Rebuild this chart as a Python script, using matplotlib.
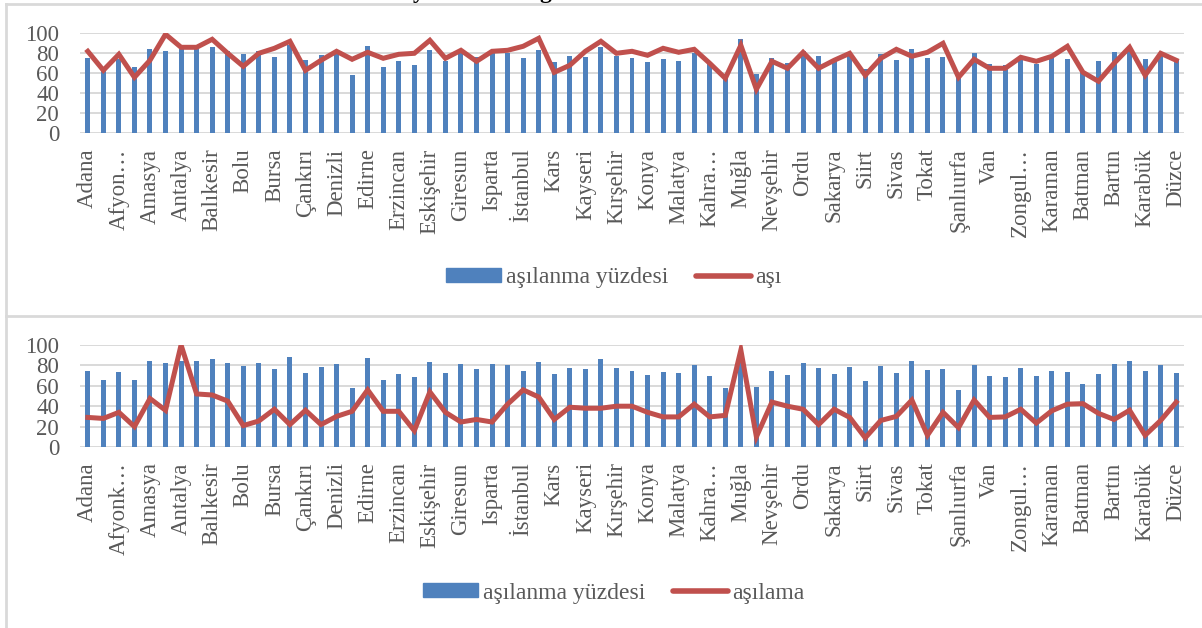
import numpy as np
import matplotlib
matplotlib.use("Agg")
import matplotlib.pyplot as plt
from matplotlib.lines import Line2D

plt.rcParams['font.family'] = ['Liberation Serif', 'DejaVu Serif']

iller = ["Adana", "Adıyaman", "Afyonkarahisar", "Ağrı", "Amasya", "Ankara", "Antalya",
         "Aydın", "Balıkesir", "Bilecik", "Bolu", "Burdur", "Bursa", "Çanakkale", "Çankırı",
         "Çorum", "Denizli", "Diyarbakır", "Edirne", "Elazığ", "Erzincan", "Erzurum",
         "Eskişehir", "Gaziantep", "Giresun", "Hatay", "Isparta", "Mersin", "İstanbul",
         "İzmir", "Kars", "Kastamonu", "Kayseri", "Kırklareli", "Kırşehir", "Kocaeli",
         "Konya", "Kütahya", "Malatya", "Manisa", "Kahramanmaraş", "Mardin", "Muğla", "Muş",
         "Nevşehir", "Niğde", "Ordu", "Rize", "Sakarya", "Samsun", "Siirt", "Sinop", "Sivas",
         "Tekirdağ", "Tokat", "Trabzon", "Şanlıurfa", "Uşak", "Van", "Yozgat", "Zonguldak",
         "Aksaray", "Karaman", "Kırıkkale", "Batman", "Şırnak", "Bartın", "Yalova",
         "Karabük", "Osmaniye", "Düzce"]

asilanma_yuzdesi = [75, 66, 74, 66, 84, 82, 84, 84, 86, 82, 79, 82, 76, 88, 73, 78, 81, 58,
                    87, 66, 72, 68.5, 83, 72.5, 81, 76, 81, 80, 75, 83, 71.5, 77, 76, 86, 77,
                    75, 71, 74, 72.5, 80.5, 70, 58, 94, 59, 75, 70.5, 82, 77.5, 72, 78, 64.5,
                    79, 73, 84, 75.5, 76, 56, 80, 69.5, 68.5, 77.5, 69.5, 75, 74, 62, 72, 81,
                    84, 74.5, 80, 73]

asi = [82, 63, 79, 56, 73, 99, 86, 86, 94, 80, 67, 80, 85, 92, 63, 73, 82, 74, 81, 75, 79,
       80, 93, 75, 83, 72, 82, 83, 87, 95, 61, 68, 82, 92, 80, 82, 78, 85, 81, 84, 70, 55,
       88, 44, 72, 65, 81, 65, 73, 80, 58, 75, 84, 77, 81, 90, 56, 74, 65, 65, 76, 72, 77,
       87, 61, 52, 70, 86, 58, 80, 73]

asilama = [29, 28, 34, 20, 47.5, 36, 100, 52, 51, 45, 21, 25.5, 37, 22, 36, 22, 30, 35, 56,
           35, 35, 16, 54, 34, 24.5, 27, 24.5, 42, 56, 49, 27, 39, 38, 38, 40, 40, 34, 29.5,
           29.5, 42, 29.5, 31, 95, 10, 44, 40, 37, 22, 37, 29, 9, 26, 30, 46, 11.5, 34, 19,
           46, 29, 29.5, 37, 23.5, 35.5, 42, 42.5, 33, 27, 36, 11.5, 26, 44]

# kısaltılmış eksen etiketleri
kisaltma_ust = {"Afyonkarahisar": "Afyon…", "Kahramanmaraş": "Kahra…", "Zonguldak": "Zongul…"}
kisaltma_alt = {"Afyonkarahisar": "Afyonk…", "Kahramanmaraş": "Kahra…", "Zonguldak": "Zongul…"}

GRI = "#595959"
CIZGI = "#d9d9d9"
MAVI = "#4f81bd"
KIRMIZI = "#c0504d"
W, H = 1202, 628

fig = plt.figure(figsize=(W / 100, H / 100), dpi=100)


def panel(top_px, bottom_px, line_vals, etiketler):
    ax = fig.add_axes([80 / W, 1 - bottom_px / H, 1104 / W, (bottom_px - top_px) / H])
    x = np.arange(len(iller))
    ax.bar(x, asilanma_yuzdesi, width=0.32, color=MAVI, zorder=2)
    ax.plot(x, line_vals, color=KIRMIZI, lw=3.6, solid_joinstyle='miter', zorder=3)
    ax.set_xlim(-0.5, len(iller) - 0.5)
    ax.set_ylim(0, 100)
    ax.set_yticks(range(0, 101, 20))
    ax.yaxis.grid(True, color=CIZGI, lw=1.4, zorder=0)
    ax.set_axisbelow(True)
    for s in ax.spines.values():
        s.set_visible(False)
    idx = list(range(0, len(iller), 2))
    ax.set_xticks(idx)
    ax.set_xticklabels([etiketler.get(iller[i], iller[i]) for i in idx], rotation=90)
    ax.tick_params(axis='x', length=0, pad=11, labelsize=16.5, labelcolor=GRI)
    ax.tick_params(axis='y', length=0, pad=15, labelsize=16.5, labelcolor=GRI)
    return ax


panel(33.3, 133.3, asi, kisaltma_ust)
panel(345, 447, asilama, kisaltma_alt)


def lejant(y_px, ad):
    handles = [plt.Rectangle((0, 0), 1, 1, color=MAVI),
               Line2D([0], [0], color=KIRMIZI, lw=4, solid_capstyle='round')]
    fig.legend(handles, ["aşılanma yüzdesi", ad], loc='center',
               bbox_to_anchor=(614 / W, 1 - y_px / H), ncol=2, frameon=False,
               fontsize=17, labelcolor=GRI, handlelength=2.3, handleheight=0.55,
               handletextpad=0.2, columnspacing=1.2)


lejant(278, "aşı")
lejant(593, "aşılama")

# panel çerçeveleri
for y in (4, 316):
    fig.add_artist(Line2D([6 / W, 1], [1 - y / H, 1 - y / H], color=CIZGI, lw=2))
fig.add_artist(Line2D([6 / W, 6 / W], [0, 1 - 4 / H], color=CIZGI, lw=2))

# üstteki başlığın kesik kalan harfleri
fig.text(419 / W, 1 + 2 / H, "y", ha='center', va='baseline', fontsize=17, weight='bold')
fig.text(545 / W, 1 + 2 / H, "g", ha='center', va='baseline', fontsize=17, weight='bold')

fig.savefig("out.png", dpi=100)
